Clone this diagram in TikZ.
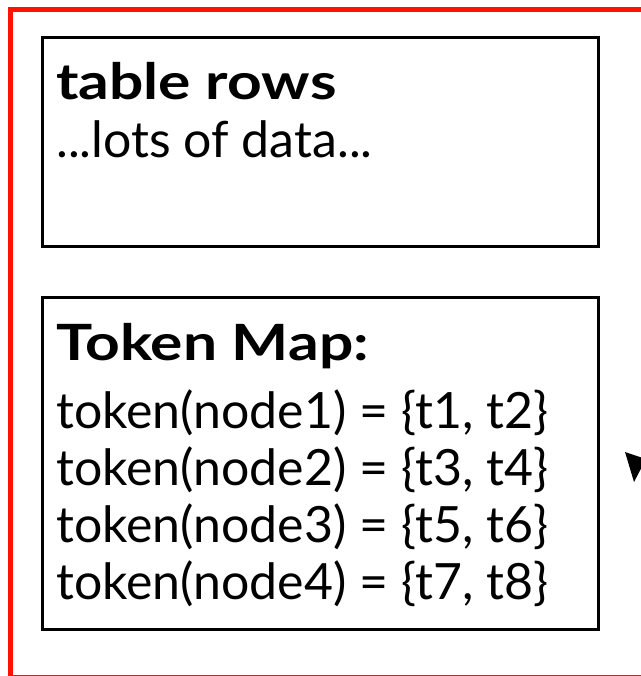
\documentclass[tikz,border=0pt]{standalone}
\usepackage{fontspec}
\setmainfont{Lato}
\begin{document}
\begin{tikzpicture}[x=1pt,y=-1pt,
  box/.style={draw=black,line width=3pt,inner sep=0pt,outer sep=0pt},
  frame/.style={draw=red!85!orange,line width=5pt},
  txt/.style={anchor=base west,inner sep=0pt,font=\fontsize{50}{57}\selectfont},
  hdr/.style={txt,font=\fontsize{50}{57}\selectfont\bfseries}]
\useasboundingbox (0,0) rectangle (640,676);
\fill[white] (0,0) rectangle (640,676);
\draw[frame] (10,10) rectangle (700,677);
\node[box,minimum width=556pt,minimum height=208pt,anchor=north west] (rows) at (42,38) {};
\node[box,minimum width=556pt,minimum height=332pt,anchor=north west] (map) at (42,297) {};
\node[hdr] (rowsT) at (56,100) {\scalebox{1.21}[1]{table rows}};
\node[txt] (rowsD) at (56,158) {...lots of data...};
\node[hdr] (mapT) at (56,360) {\scalebox{1.21}[1]{Token Map:}};
\node[txt] (m1) at (56,428) {token(node1) = \{t1, t2\}};
\node[txt] (m2) at (56,485) {token(node2) = \{t3, t4\}};
\node[txt] (m3) at (56,542) {token(node3) = \{t5, t6\}};
\node[txt] (m4) at (56,599) {token(node4) = \{t7, t8\}};
\fill[black] (625,452) -- (646,459) -- (634,482) -- cycle;
\end{tikzpicture}
\end{document}
